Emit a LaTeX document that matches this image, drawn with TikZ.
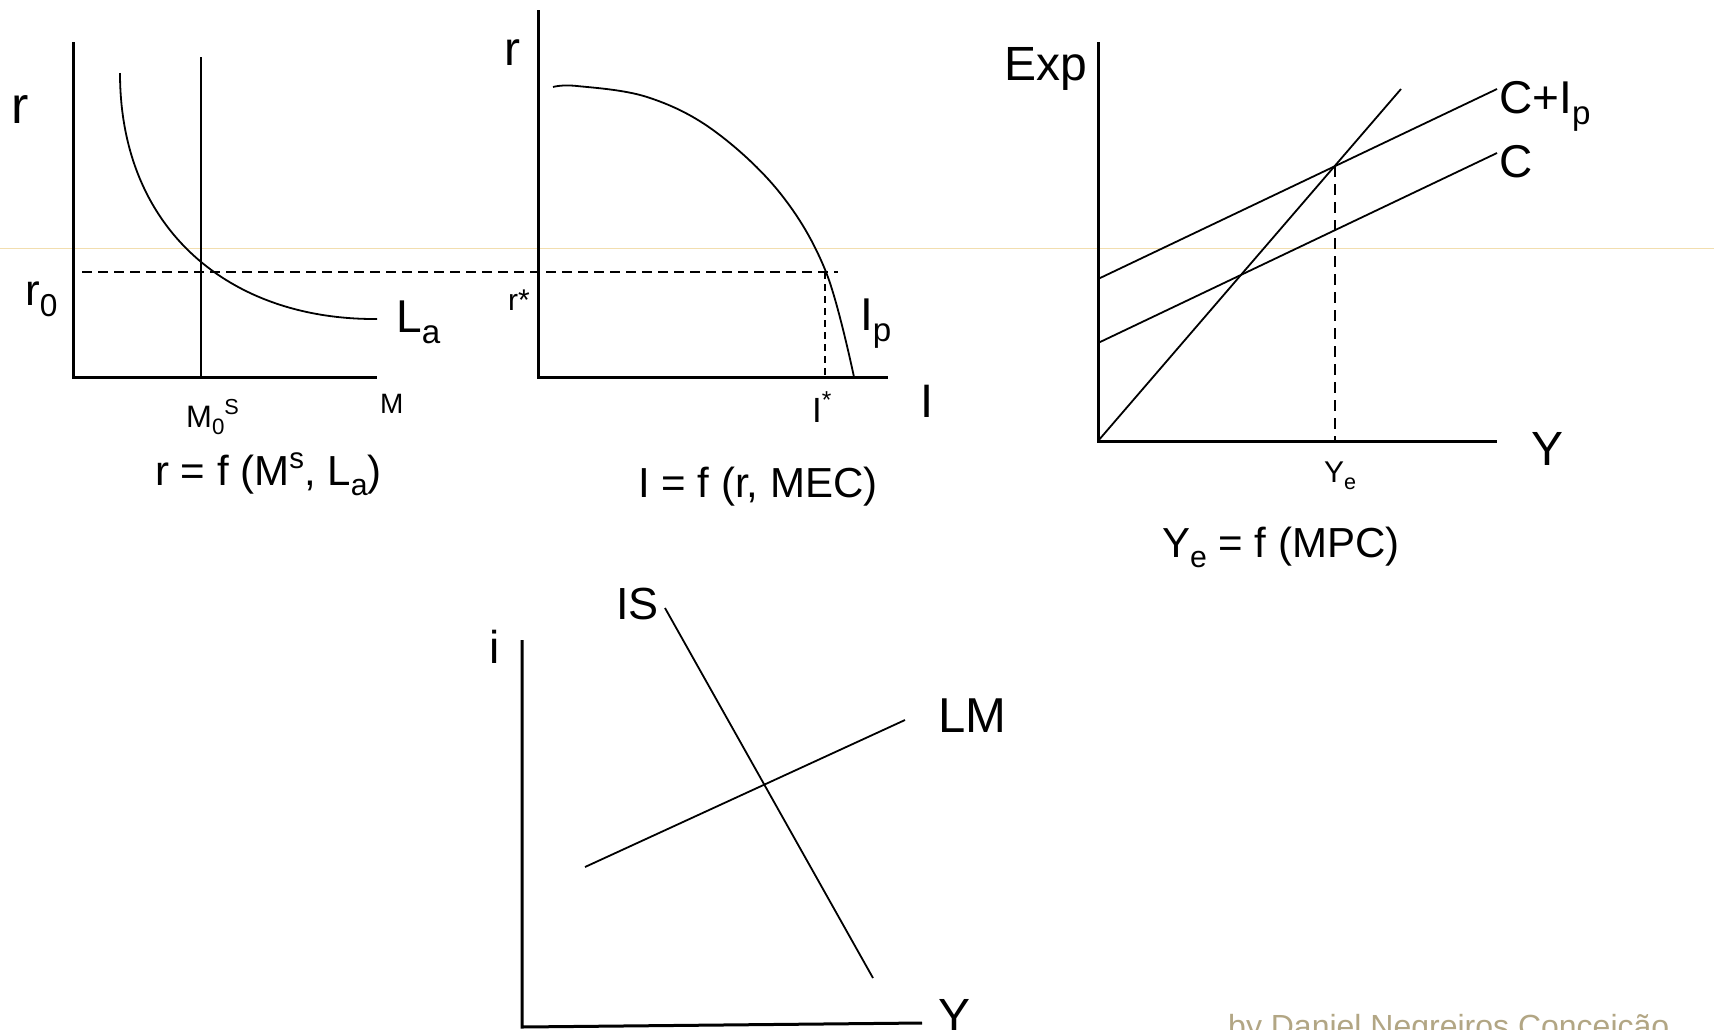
\documentclass[tikz,border=0pt]{standalone}
\usepackage{fontspec}
\setmainfont{Liberation Sans}
\definecolor{guidecol}{RGB}{242,222,175}
\definecolor{creditcol}{RGB}{178,166,132}
\newcommand{\lsub}[1]{\raisebox{-0.25em}{\scalebox{0.72}{#1}}}
\newcommand{\lsup}[1]{\raisebox{0.4em}{\scalebox{0.7}{#1}}}
\newcommand{\fsz}[1]{\fontsize{#1}{#1}\selectfont}
\begin{document}
\begin{tikzpicture}[x=1pt,y=-1pt,
  lbl/.style={inner sep=0pt, anchor=base west},
  axisline/.style={line width=3pt},
  curveline/.style={line width=1.8pt},
  dashline/.style={line width=2.4pt, dash pattern=on 10pt off 6pt},
  guideline/.style={guidecol, line width=1pt}]
\useasboundingbox[fill=white] (0,0) rectangle (1714,1029);
% faint guide line
\draw[guideline] (0,248) -- (1714,248);

% ---------- panel 1 : money market ----------
\coordinate (o1) at (73,377);
\coordinate (y1) at (73,42);
\coordinate (x1) at (377,377);
\draw[axisline] (y1) -- (o1) -- (x1);
\coordinate (ms1) at (201,57);
\coordinate (ms0) at (201,377);
\draw[line width=2.8pt] (ms1) -- (ms0);
\coordinate (la0) at (120,73);
\coordinate (la1) at (377,319);
\draw[curveline] (la0) .. controls (120,230) and (230,320) .. (la1);
\coordinate (d0) at (82,272);
\coordinate (d1) at (838,272);
\draw[dashline] (d0) -- (d1);

\node[lbl, font=\fsz{52}] (r1) at (11,123) {r};
\node[lbl, font=\fsz{44}] (r0) at (25,305) {r\lsub{0}};
\node[lbl, font=\fsz{46}] (La) at (396,332) {L\lsub{a}};
\node[lbl, font=\fsz{31}] (M0S) at (186,427) {M\lsub{0}\lsup{S}};
\node[lbl, font=\fsz{28}] (M) at (380,413) {M};
\node[lbl, font=\fsz{42}] (f1) at (155,485) {r = f (M\lsup{s}, L\lsub{a})};

% ---------- panel 2 : investment ----------
\coordinate (o2) at (538,377);
\coordinate (y2) at (538,10);
\coordinate (x2) at (888,377);
\draw[axisline] (y2) -- (o2) -- (x2);
\draw[curveline] plot[smooth, tension=0.6] coordinates
  {(553,87) (577,86) (647,97) (713,130) (780,193) (826,272) (854,377)};
\coordinate (is0) at (825,272);
\coordinate (is1) at (825,377);
\draw[line width=2.2pt, dash pattern=on 7pt off 5pt] (is0) -- (is1);

\node[lbl, font=\fsz{48}] (r2) at (504,65) {r};
\node[lbl, font=\fsz{30}] (rs) at (508,310) {r*};
\node[lbl, font=\fsz{46}] (Ip) at (860,330) {I\lsub{p}};
\node[lbl, font=\fsz{35}] (Is) at (812,422) {I\lsup{*}};
\node[lbl, font=\fsz{47}] (I) at (920,417) {I};
\node[lbl, font=\fsz{42}] (f2) at (638,497) {I = f (r, MEC)};

% ---------- panel 3 : Keynesian cross ----------
\coordinate (o3) at (1098,441);
\coordinate (y3) at (1098,42);
\coordinate (x3) at (1497,441);
\draw[axisline] (y3) -- (o3) -- (x3);
\coordinate (l45) at (1401,89);
\draw[curveline] (o3) -- (l45);
\coordinate (ci0) at (1098,279);
\coordinate (ci1) at (1497,89);
\draw[curveline] (ci0) -- (ci1);
\coordinate (c0) at (1098,343);
\coordinate (c1) at (1497,153);
\draw[curveline] (c0) -- (c1);
\coordinate (ye0) at (1335,166);
\coordinate (ye1) at (1335,441);
\draw[line width=2.4pt, dash pattern=on 11pt off 7pt] (ye0) -- (ye1);

\node[lbl, anchor=base east, font=\fsz{48}] (Exp) at (1087,80) {Exp};
\node[lbl, font=\fsz{46}] (CIp) at (1499,113) {C+I\lsub{p}};
\node[lbl, font=\fsz{46}] (C) at (1499,177) {C};
\node[lbl, font=\fsz{48}] (Y3) at (1531,465) {Y};
\node[lbl, font=\fsz{30}] (Ye) at (1324,482) {Y\lsub{e}};
\node[lbl, font=\fsz{42}] (f3) at (1162,557) {Y\lsub{e} = f (MPC)};

% ---------- panel 4 : IS-LM ----------
\coordinate (o4) at (522,1027);
\coordinate (y4) at (522,640);
\coordinate (x4) at (922,1023);
\draw[axisline] (y4) -- (o4) -- (x4);
\coordinate (isA) at (665,608);
\coordinate (isB) at (873,978);
\draw[curveline] (isA) -- (isB);
\coordinate (lmA) at (585,867);
\coordinate (lmB) at (905,720);
\draw[curveline] (lmA) -- (lmB);

\node[lbl, font=\fsz{45}] (IS) at (616,619) {IS};
\node[lbl, font=\fsz{46}] (iax) at (489,663) {i};
\node[lbl, font=\fsz{49}] (LM) at (938,732) {LM};
\node[lbl, font=\fsz{48}] (Y4) at (938,1032) {Y};

% ---------- credit ----------
\node[lbl, font=\fsz{32}, text=creditcol] (credit) at (1228,1037) {by Daniel Negreiros Conceição};
\end{tikzpicture}
\end{document}
